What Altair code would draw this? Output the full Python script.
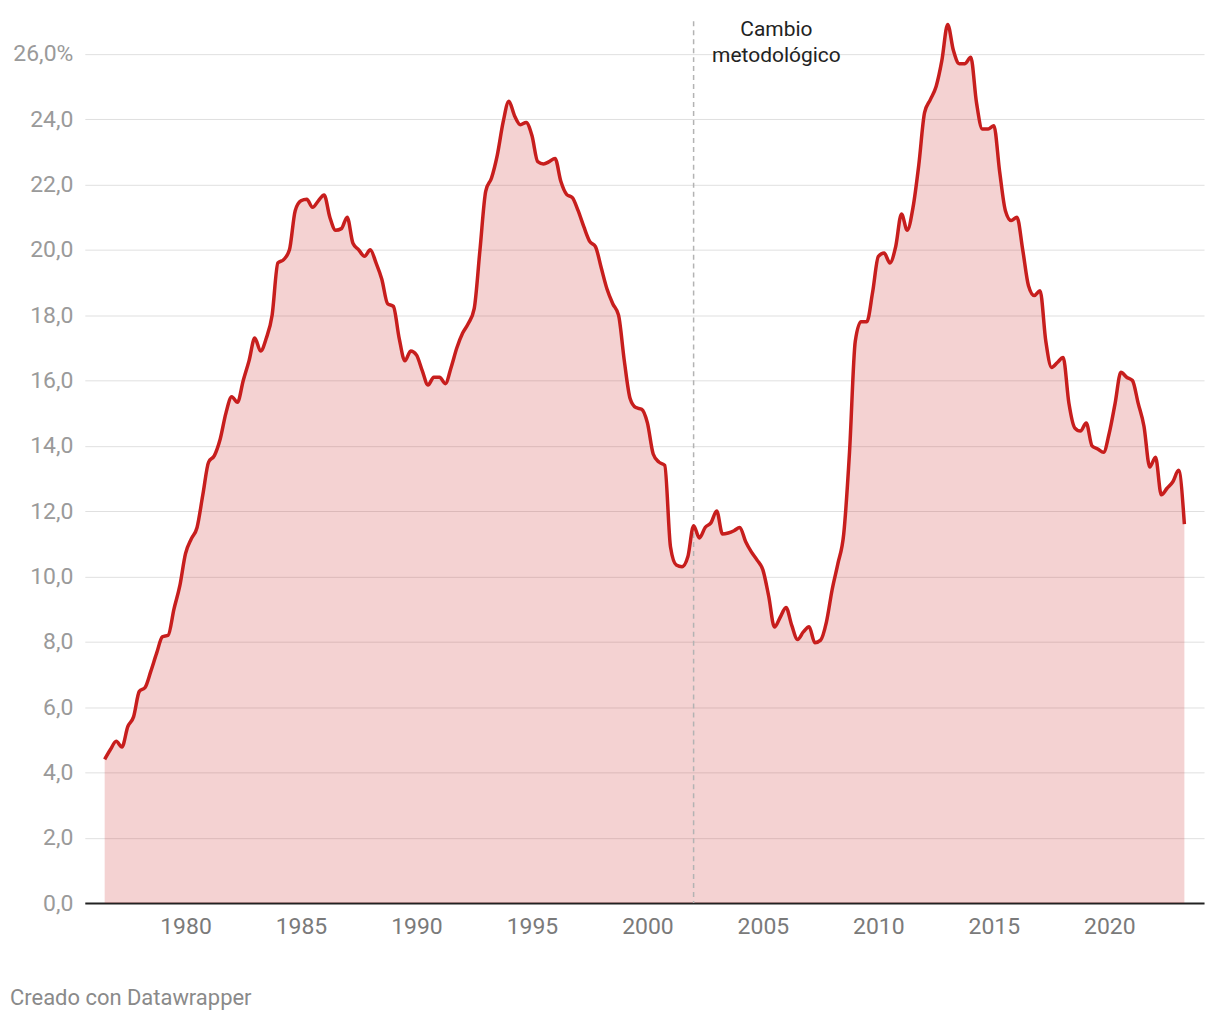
import altair as alt
import pandas as pd

# Tasa de paro (EPA), trimestral, desde 1976-T3 hasta 2023-T2
start_year = 1976
start_quarter = 3
unemployment = [
    4.4, 4.7,                      # 1976 T3-T4
    4.95, 4.78, 5.4, 5.7,          # 1977
    6.48, 6.6, 7.1, 7.65,          # 1978
    8.15, 8.2, 9.0, 9.7,           # 1979
    10.7, 11.15, 11.5, 12.5,       # 1980
    13.5, 13.7, 14.2, 15.0,        # 1981
    15.5, 15.33, 16.0, 16.6,       # 1982
    17.3, 16.9, 17.3, 18.0,        # 1983
    19.6, 19.7, 20.0, 21.2,        # 1984
    21.5, 21.55, 21.3, 21.5,       # 1985
    21.68, 21.0, 20.6, 20.65,      # 1986
    21.0, 20.2, 20.0, 19.8,        # 1987
    20.0, 19.6, 19.1, 18.35,       # 1988
    18.27, 17.3, 16.6, 16.9,       # 1989
    16.78, 16.3, 15.86, 16.1,      # 1990
    16.1, 15.9, 16.4, 17.0,        # 1991
    17.45, 17.75, 18.2, 20.0,      # 1992
    21.8, 22.2, 22.9, 23.9,        # 1993
    24.55, 24.1, 23.83, 23.9,      # 1994
    23.5, 22.7, 22.63, 22.7,       # 1995
    22.8, 22.1, 21.7, 21.6,        # 1996
    21.2, 20.7, 20.26, 20.1,       # 1997
    19.45, 18.8, 18.35, 18.0,      # 1998
    16.6, 15.45, 15.17, 15.12,     # 1999
    14.7, 13.75, 13.5, 13.4,       # 2000
    10.9, 10.35, 10.3, 10.6,       # 2001
    11.55, 11.18, 11.5, 11.64,     # 2002
    12.0, 11.3, 11.33, 11.4,       # 2003
    11.5, 11.07, 10.75, 10.5,      # 2004
    10.2, 9.4, 8.45, 8.75,         # 2005
    9.05, 8.5, 8.07, 8.3,          # 2006
    8.46, 7.97, 8.05, 8.6,         # 2007
    9.6, 10.4, 11.3, 13.8,         # 2008
    17.2, 17.8, 17.8, 18.7,        # 2009
    19.8, 19.9, 19.6, 20.1,        # 2010
    21.1, 20.6, 21.3, 22.6,        # 2011
    24.2, 24.6, 25.0, 25.8,        # 2012
    26.9, 26.1, 25.7, 25.7,        # 2013
    25.9, 24.5, 23.7, 23.7,        # 2014
    23.8, 22.4, 21.2, 20.9,        # 2015
    21.0, 20.0, 18.9, 18.6,        # 2016
    18.75, 17.2, 16.4, 16.55,      # 2017
    16.7, 15.3, 14.55, 14.45,      # 2018
    14.7, 14.0, 13.9, 13.8,        # 2019
    14.4, 15.3, 16.25, 16.1,       # 2020
    16.0, 15.3, 14.6, 13.35,       # 2021
    13.65, 12.5, 12.7, 12.9,       # 2022
    13.25, 11.6,                   # 2023 T1-T2
]

x_ticks = [1980, 1985, 1990, 1995, 2000, 2005, 2010, 2015, 2020]
y_ticks = list(range(0, 27, 2))
change_year = 2002
annotation_lines = ["Cambio", "metodológico"]
footer_text = "Creado con Datawrapper"

periods = []
dates = []
for i, v in enumerate(unemployment):
    q0 = (start_quarter - 1) + i
    y = start_year + q0 // 4
    q = q0 % 4 + 1
    periods.append(f"{y}-T{q}")
    dates.append(y + (q - 1) / 4)

df = pd.DataFrame({"periodo": periods, "t": dates, "paro": unemployment})

RED = "#c71e1d"
FONT = "Roboto"

x_enc = alt.X(
    "t:Q",
    scale=alt.Scale(domain=[1975.64, 2024.1], nice=False, zero=False),
    axis=alt.Axis(
        values=x_ticks, format="d", title=None, grid=False, ticks=False,
        labelPadding=13, labelFontSize=23, labelColor="#7a7a7a",
        domain=True, domainColor="#222222", domainWidth=2, labelFlush=False,
    ),
)
y_enc = alt.Y(
    "paro:Q",
    scale=alt.Scale(domain=[0, 27], nice=False),
    axis=alt.Axis(
        values=y_ticks, title=None, domain=False, ticks=False,
        labelPadding=12, labelFontSize=23, labelColor="#9a9a9a",
        gridColor="#e0e0e0", gridWidth=1,
        labelExpr="datum.value == 26 ? '26,0%' : replace(format(datum.value, '.1f'), '.', ',')",
    ),
)

base = alt.Chart(df)

area = base.mark_area(interpolate="monotone", color=RED, opacity=0.2).encode(
    x=x_enc, y=y_enc
)

rule = alt.Chart(pd.DataFrame({"t": [change_year]})).mark_rule(
    color="#b3b3b3", strokeDash=[5, 4], strokeWidth=1.5
).encode(x=alt.X("t:Q"))

line = base.mark_line(interpolate="monotone", color=RED, strokeWidth=3.5).encode(
    x=alt.X("t:Q"), y=alt.Y("paro:Q"),
    tooltip=["periodo", "paro"],
)

annotation = alt.Chart(pd.DataFrame({"t": [change_year], "txt": [annotation_lines]})).mark_text(
    align="center", baseline="alphabetic", dx=83, fontSize=21, lineHeight=26,
    color="#222222", font=FONT,
).encode(x=alt.X("t:Q"), y=alt.value(15), text="txt")

footer = alt.Chart(pd.DataFrame({"txt": [footer_text]})).mark_text(
    align="left", baseline="middle", fontSize=22, color="#8a8a8a", font=FONT,
).encode(x=alt.value(-75), y=alt.value(979), text="txt:N")

chart = alt.layer(area, rule, line, annotation, footer).properties(
    width=1122,
    height=884,
    autosize=alt.AutoSizeParams(type="none"),
    padding={"left": 77, "top": 12, "right": 8, "bottom": 110},
).configure(font=FONT).configure_view(stroke=None)

chart.save("out.html", embed_options={"renderer": "svg", "actions": False})
